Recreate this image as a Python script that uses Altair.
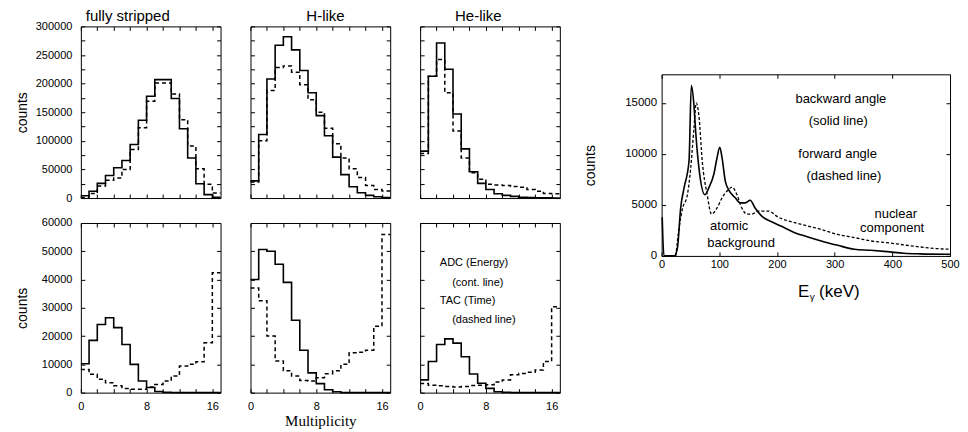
import altair as alt
import pandas as pd

# ---------------- data: multiplicity histograms (17 bins, multiplicity 0..16) -------------
MULT = list(range(17))

FS_ADC_TOP = [4000, 12000, 25600, 39500, 52900, 65700, 93600, 136000, 178000, 207000,
              207000, 174000, 121000, 70000, 25000, 6000, 1500]
FS_TAC_TOP = [1000, 8000, 21000, 31000, 35000, 50000, 85000, 123000, 169000, 201000,
              201000, 182000, 137000, 91000, 51000, 24000, 9000]
H_ADC_TOP = [30000, 111000, 208000, 267000, 282000, 259000, 223000, 184000, 144000, 109000,
             71500, 41000, 19700, 9200, 4700, 2300, 1000]
H_TAC_TOP = [28000, 100000, 188000, 228000, 231000, 220000, 198000, 172000, 150000, 122000,
             95000, 70000, 51000, 36000, 22000, 15000, 12500]
HE_ADC_TOP = [82000, 213000, 271000, 225000, 147000, 86000, 46000, 25600, 15000, 7500,
              4700, 3000, 1500, 800, 500, 300, 200]
HE_TAC_TOP = [78000, 213000, 242000, 184000, 117000, 70000, 44000, 33000, 24000, 23000,
              22000, 20000, 19000, 15000, 12000, 8000, 7500]

FS_ADC_BOT = [10200, 18500, 24100, 26500, 23000, 17000, 10000, 4100, 1800, 400,
              100, 0, 0, 0, 0, 0, 0]
FS_TAC_BOT = [8200, 6500, 4700, 3500, 2400, 1500, 1200, 1200, 2000, 2900,
              4100, 5900, 9400, 10000, 10900, 17600, 42400]
H_ADC_BOT = [40000, 50600, 50000, 45400, 39000, 25600, 15000, 7000, 3200, 1000,
             300, 0, 0, 0, 0, 0, 0]
H_TAC_BOT = [37000, 32500, 20000, 11200, 7700, 5900, 4300, 4100, 5300, 6700,
             7700, 10000, 14100, 14300, 15000, 23500, 55900]
HE_ADC_BOT = [4500, 11000, 17000, 19000, 17500, 12700, 6600, 3300, 1500, 300,
              100, 0, 0, 0, 0, 0, 0]
HE_TAC_BOT = [3200, 2600, 2400, 2200, 2000, 2200, 2500, 2600, 2800, 3800,
              4500, 6300, 6800, 7200, 8000, 11000, 30400]

PANEL_TITLES = ["fully stripped", "H-like", "He-like"]
TITLE_X = [0.6, 6.8, 4.25]
TITLE_Y = 308700

NOTE_TEXT = ["ADC (Energy)", "(cont. line)", "TAC (Time)", "(dashed line)"]
NOTE_X = [2.4, 3.9, 2.4, 3.9]
NOTE_Y = [46000, 38800, 32500, 25700]

# ---------------- data: gamma energy spectrum -------------
E_BACK = [1, 4, 22, 27.5, 33, 39, 47.5, 51.5, 56, 59, 64.7, 75, 82, 90.5, 96, 100.8, 104.8,
          110.5, 116, 127.7, 136, 145, 153.5, 162, 173.5, 190.7, 207.9, 230.8, 253.7, 276.6,
          305.3, 334, 362.5, 391, 419.8, 448, 500]
C_BACK = [3800, 0, 0, 815, 4700, 6700, 9300, 16700, 14800, 12200, 8600, 6000, 6700, 8000, 9600,
          10650, 9600, 7300, 6500, 5700, 5200, 5200, 5450, 4700, 3900, 3350, 2900, 2280, 1860,
          1470, 1040, 650, 550, 420, 260, 200, 160]
E_FWD = [24.6, 30.4, 36, 44.7, 50.4, 56, 60, 64.7, 70.4, 79, 86.5, 96, 104.8, 116, 122, 130.6,
         139, 147.8, 156.4, 168, 185, 202, 230.8, 253.7, 276.6, 305, 334, 362.5, 391, 420, 448,
         477, 500]
C_FWD = [0, 2800, 4600, 6000, 8600, 12500, 15000, 13700, 9300, 6000, 4100, 4700, 5700, 6500,
         6750, 6000, 4700, 4100, 4100, 4400, 4400, 3800, 3260, 2930, 2600, 2100, 1800, 1470,
         1300, 1080, 880, 720, 650]

SPEC_TEXT = ["backward angle", "(solid line)", "forward angle", "(dashed line)",
             "atomic", "background", "nuclear", "component"]
SPEC_X = [232, 255, 237, 251, 84, 79, 369, 344]
SPEC_Y = [15390, 13210, 10010, 7830, 2935, 1300, 4150, 2780]

XT_TEXT = ["E", "γ", "(keV)"]
XT_X = [256, 257, 273]
XT_Y = [-4010, -4350, -4010]

# ---------------- style -------------
FONT = "Liberation Sans"
SERIF = "Liberation Serif"
TK = 4  # inward tick length


def ax(orient, values, labels=False, pad=8, expr=None, **kw):
    d = dict(orient=orient, values=values, offset=-TK, tickSize=TK, domain=False, grid=False,
             labels=labels, labelPadding=pad, labelOverlap=False, labelFlush=False,
             format="d", title=None, tickColor="black", tickWidth=1,
             minExtent=0, maxExtent=200)
    if expr:
        d["labelExpr"] = expr
    d.update(kw)
    return alt.Axis(**d)


def steps(vals):
    return pd.DataFrame({"m": MULT + [17], "c": list(vals) + [vals[-1]]})


def hist_panel(adc, tac, ymax, ystep, yexpr, height, title=None, title_x=0,
               show_y=False, show_x=False, xtitle=False, notes=False):
    xs = alt.Scale(domain=[0, 17], nice=False, zero=False)
    ys = alt.Scale(domain=[0, ymax], nice=False)
    xvals = list(range(0, 17, 2))
    yvals = list(range(0, ymax + 1, ystep))
    bkw = {}
    if xtitle:
        bkw = dict(title="Multiplicity", titleFont=SERIF, titleFontSize=15,
                   titleY=37, titleBaseline="alphabetic", titleFontWeight="normal")
    bottom = ax("bottom", xvals, labels=show_x, pad=8,
                expr="datum.value % 8 == 0 ? datum.label : ''", **bkw)
    lkw = {}
    if show_y:
        lkw = dict(title="counts", titleX=-55, titleAngle=270, titleBaseline="bottom",
                   titleFontSize=14)
    left = ax("left", yvals, labels=show_y, pad=9, expr=yexpr, **lkw)
    top = ax("top", xvals)
    right = ax("right", yvals)
    l1 = alt.Chart(steps(adc)).mark_line(interpolate="step-after", color="black",
                                         strokeWidth=1.6).encode(
        x=alt.X("m:Q", scale=xs, axis=bottom), y=alt.Y("c:Q", scale=ys, axis=left))
    l2 = alt.Chart(steps(tac)).mark_line(interpolate="step-after", color="black",
                                         strokeWidth=1.5, strokeDash=[4, 3]).encode(
        x=alt.X("m:Q", scale=xs, axis=top), y=alt.Y("c:Q", scale=ys, axis=right))
    layers = [l1, l2]
    if notes:
        nd = pd.DataFrame({"x": NOTE_X, "y": NOTE_Y, "t": NOTE_TEXT})
        layers.append(alt.Chart(nd).mark_text(align="left", baseline="middle", font=FONT,
                                              fontSize=11, color="black").encode(
            x=alt.X("x:Q", scale=xs, axis=None), y=alt.Y("y:Q", scale=ys, axis=None),
            text="t:N"))
    if title:
        td = pd.DataFrame({"x": [title_x], "y": [TITLE_Y], "t": [title]})
        layers.append(alt.Chart(td).mark_text(align="left", baseline="alphabetic", font=FONT,
                                              fontSize=15, color="black").encode(
            x=alt.X("x:Q", scale=xs, axis=None), y=alt.Y("y:Q", scale=ys, axis=None),
            text="t:N"))
    ch = alt.layer(*layers).resolve_axis(x="independent", y="independent").properties(
        width=140, height=height)
    return ch


TOP_EXPR = "datum.value % 50000 == 0 ? datum.label : ''"
p11 = hist_panel(FS_ADC_TOP, FS_TAC_TOP, 300000, 25000, TOP_EXPR, 172,
                 title=PANEL_TITLES[0], title_x=TITLE_X[0], show_y=True)
p12 = hist_panel(H_ADC_TOP, H_TAC_TOP, 300000, 25000, TOP_EXPR, 172,
                 title=PANEL_TITLES[1], title_x=TITLE_X[1])
p13 = hist_panel(HE_ADC_TOP, HE_TAC_TOP, 300000, 25000, TOP_EXPR, 172,
                 title=PANEL_TITLES[2], title_x=TITLE_X[2])
p21 = hist_panel(FS_ADC_BOT, FS_TAC_BOT, 60000, 10000, None, 170, show_y=True, show_x=True)
p22 = hist_panel(H_ADC_BOT, H_TAC_BOT, 60000, 10000, None, 170, show_x=True, xtitle=True)
p23 = hist_panel(HE_ADC_BOT, HE_TAC_BOT, 60000, 10000, None, 170, show_x=True, notes=True)

row1 = alt.hconcat(p11, p12, p13, spacing=30, bounds="flush")
row2 = alt.hconcat(p21, p22, p23, spacing=30, bounds="flush")
left_block = alt.vconcat(row1, row2, spacing=12)

# ---------------- energy spectrum panel -------------
exs = alt.Scale(domain=[0, 500], nice=False)
eys = alt.Scale(domain=[0, 17800], nice=False)
e_bottom = ax("bottom", [0, 100, 200, 300, 400, 500], labels=True, pad=3)
e_left = ax("left", [0, 5000, 10000, 15000], labels=True, pad=5, title="counts",
            titleX=-68, titleAngle=270, titleBaseline="bottom", titleFontSize=14,
            labelFontSize=11.5)
e_top = ax("top", [0, 100, 200, 300, 400, 500])
e_right = ax("right", [0, 5000, 10000, 15000])

back_df = pd.DataFrame({"e": E_BACK, "c": C_BACK})
fwd_df = pd.DataFrame({"e": E_FWD, "c": C_FWD})
spec_df = pd.DataFrame({"e": SPEC_X, "c": SPEC_Y, "t": SPEC_TEXT})

s_line = alt.Chart(back_df).mark_line(interpolate="monotone", color="black",
                                      strokeWidth=1.6).encode(
    x=alt.X("e:Q", scale=exs, axis=e_bottom), y=alt.Y("c:Q", scale=eys, axis=e_left))
d_line = alt.Chart(fwd_df).mark_line(interpolate="monotone", color="black", strokeWidth=1.3,
                                     strokeDash=[3, 2]).encode(
    x=alt.X("e:Q", scale=exs, axis=e_top), y=alt.Y("c:Q", scale=eys, axis=e_right))
s_text = alt.Chart(spec_df).mark_text(align="left", baseline="middle", font=FONT, fontSize=13,
                                      color="black").encode(
    x=alt.X("e:Q", scale=exs, axis=None), y=alt.Y("c:Q", scale=eys, axis=None), text="t:N")

xt_layers = []
for i, (al, fsz) in enumerate([("right", 17), ("left", 10), ("left", 17)]):
    d = pd.DataFrame({"e": [XT_X[i]], "c": [XT_Y[i]], "t": [XT_TEXT[i]]})
    xt_layers.append(alt.Chart(d).mark_text(align=al, baseline="alphabetic", font=FONT,
                                            fontSize=fsz, color="black").encode(
        x=alt.X("e:Q", scale=exs, axis=None), y=alt.Y("c:Q", scale=eys, axis=None),
        text="t:N"))

spec = alt.layer(s_line, d_line, s_text, *xt_layers).resolve_axis(
    x="independent", y="independent").properties(width=289, height=182)

spacer = alt.Chart(pd.DataFrame({"a": [0]})).mark_point(opacity=0).encode(
    x=alt.value(0), y=alt.value(0)).properties(
    width=289, height=48, view=alt.ViewBackground(stroke="transparent"))

right_block = alt.vconcat(spacer, spec, spacing=0, bounds="flush")

chart = alt.hconcat(left_block, right_block, spacing=19).properties(
    padding={"left": 7, "top": 0, "right": 0, "bottom": 0}
).configure(background="white").configure_view(
    stroke="black", strokeWidth=1
).configure_axis(
    labelFont=FONT, labelFontSize=11, labelColor="black",
    titleFont=FONT, titleColor="black", titleFontWeight="normal"
)

chart.save("out.html", embed_options={"renderer": "svg", "actions": False})
